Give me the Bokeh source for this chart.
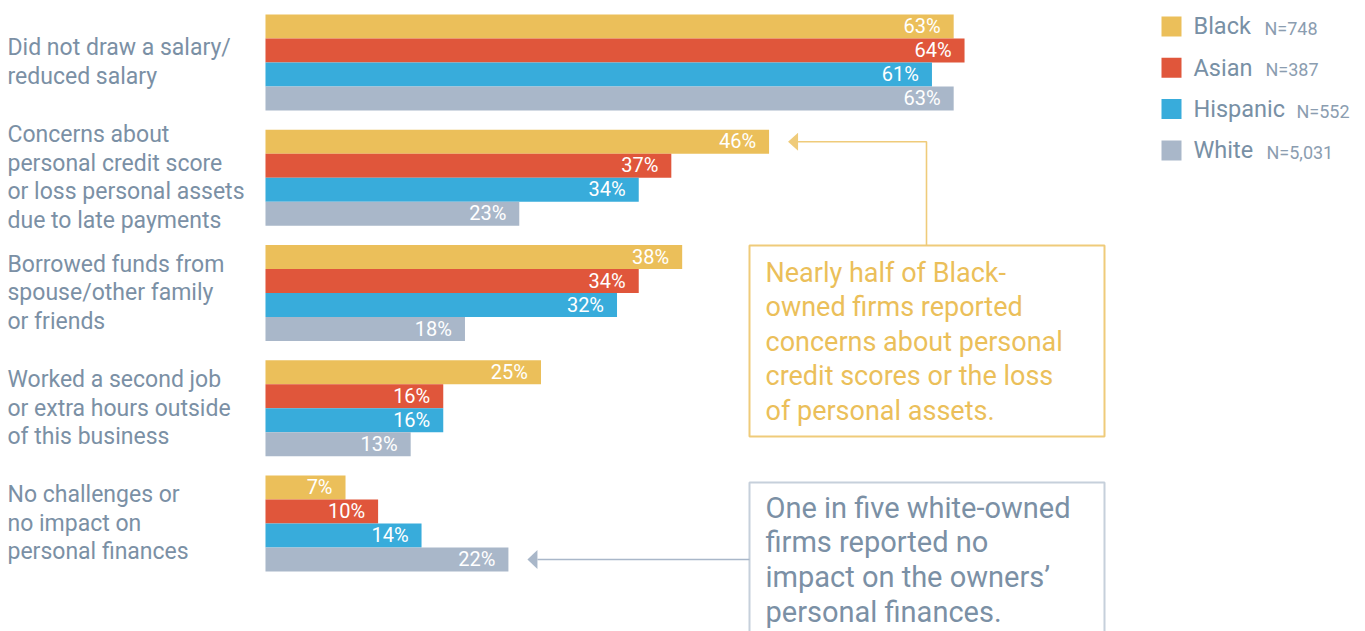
from bokeh.plotting import figure
from bokeh.models import ColumnDataSource, Range1d
from bokeh.core.properties import value
from bokeh.embed import file_html
from bokeh.resources import INLINE

# ---------------- data ----------------
CATEGORIES = [
    "Did not draw a salary/\nreduced salary",
    "Concerns about\npersonal credit score\nor loss personal assets\ndue to late payments",
    "Borrowed funds from\nspouse/other family\nor friends",
    "Worked a second job\nor extra hours outside\nof this business",
    "No challenges or\nno impact on\npersonal finances",
]
SERIES = ["Black", "Asian", "Hispanic", "White"]
SERIES_N = ["N=748", "N=387", "N=552", "N=5,031"]
BLACK = [63, 46, 38, 25, 7]
ASIAN = [64, 37, 34, 16, 10]
HISPANIC = [61, 34, 32, 16, 14]
WHITE = [63, 23, 18, 13, 22]
VALUES = [BLACK, ASIAN, HISPANIC, WHITE]
COLORS = ["#ebbf5a", "#e0563b", "#38acdb", "#a9b7c9"]

NOTE_BLACK = ["Nearly half of Black-", "owned firms reported", "concerns about personal",
              "credit scores or the loss", "of personal assets."]
NOTE_WHITE = ["One in five white-owned", "firms reported no", "impact on the owners\u2019",
              "personal finances."]

# ---------------- layout ----------------
W, H = 1365, 631
S = 10.86          # px per percent
X0 = 269           # px of value 0
ROW = 24.0         # px per bar row
Y0 = 14            # px of first bar top
GAP = 0.802        # gap between groups in rows
BASE = -0.37       # bar base (4px left of zero)

def px_x(px):
    return (px - X0) / S

def px_y(py):
    return (py - Y0) / ROW

def base_y(py, size):
    # alphabetic baseline at page px py, corrected for renderer offset
    return px_y(py - 0.37 * size)

FONT = value("Roboto")
LABEL_C = "#7b90a5"

p = figure(width=W, height=H, output_backend="svg", toolbar_location=None,
           x_axis_location=None, y_axis_location=None, min_border=0,
           x_range=Range1d(px_x(0), px_x(W)),
           y_range=Range1d(px_y(H), px_y(0)))
p.grid.visible = False
p.outline_line_color = None
p.background_fill_color = "white"
p.border_fill_color = "white"

# bars
ys, rights, cols, labs, lx, ly = [], [], [], [], [], []
for i in range(len(CATEGORIES)):
    for j in range(len(SERIES)):
        yc = i * (4 + GAP) + j + 0.5
        v = VALUES[j][i]
        ys.append(yc); rights.append(v); cols.append(COLORS[j])
        labs.append(f"{v}%"); lx.append(v - 13 / S)
        ly.append(yc + (7.1 - 0.37 * 20) / ROW)
src = ColumnDataSource(dict(y=ys, right=rights, color=cols, lab=labs, lx=lx, ly=ly))
p.hbar(y="y", left=BASE, right="right", height=1.0, fill_color="color", line_color=None, source=src)
p.text(x="lx", y="ly", text="lab", source=src, text_color="white", text_font=FONT,
       text_font_size="20px", text_align="right", text_baseline="alphabetic")

# category labels
LH = 28.7 / ROW
cx, cy, ct = [], [], []
for i, cat in enumerate(CATEGORIES):
    lines = cat.split("\n")
    center = i * (4 + GAP) + 2.0
    n = len(lines)
    for k, line in enumerate(lines):
        cx.append(px_x(7))
        cy.append(center + (k - (n - 1) / 2) * LH + (8.3 - 0.37 * 23) / ROW)
        ct.append(line)
p.text(x=cx, y=cy, text=ct, text_color=LABEL_C, text_font=FONT, text_font_size="23px",
       text_align="left", text_baseline="alphabetic")

# legend
LEG_Y = [26 + 41.3 * j for j in range(4)]
N_X = [1264, 1265, 1296, 1266]
p.rect(x=[px_x(1171)] * 4, y=[px_y(v) for v in LEG_Y], width=20, height=20,
       width_units="screen", height_units="screen", fill_color=COLORS, line_color=None)
p.text(x=[px_x(1193)] * 4, y=[base_y(v + 8.3, 23) for v in LEG_Y], text=SERIES, text_color="#7890a5",
       text_font=FONT, text_font_size="23.5px", text_baseline="alphabetic")
p.text(x=[px_x(v) for v in N_X], y=[base_y(v + 8.8, 18) for v in LEG_Y], text=SERIES_N,
       text_color="#8b9db0", text_font=FONT, text_font_size="18px", text_baseline="alphabetic")

# annotation boxes
Y_C = "#efcb7a"; Y_T = "#ebbf5a"
G_C = "#c6d0db"; G_T = "#7b90a5"; G_A = "#a9b7c9"
p.quad(left=px_x(749), right=px_x(1104), top=px_y(245), bottom=px_y(436),
       fill_color=None, line_color=Y_C, line_width=2)
p.quad(left=px_x(749), right=px_x(1104), top=px_y(482), bottom=px_y(700),
       fill_color=None, line_color=G_C, line_width=2)
BLH = 34.6
p.text(x=[px_x(765)] * len(NOTE_BLACK), y=[base_y(282 + BLH * k, 27) for k in range(len(NOTE_BLACK))],
       text=NOTE_BLACK, text_color=Y_T, text_font=FONT, text_font_size="27px", text_baseline="alphabetic")
p.text(x=[px_x(765)] * len(NOTE_WHITE), y=[base_y(518 + BLH * k, 29) for k in range(len(NOTE_WHITE))],
       text=NOTE_WHITE, text_color=G_T, text_font=FONT, text_font_size="29px", text_baseline="alphabetic")

# connectors with arrow heads pointing at the highlighted bars
yb = 1 * (4 + GAP) + 0 + 0.5          # Black bar of group 2
tip_b = BLACK[1] + 19 / S
p.line(x=[px_x(926), px_x(926), tip_b + 10 / S], y=[px_y(245), yb, yb], line_color=Y_C, line_width=1.6)
p.patch(x=[tip_b, tip_b + 10 / S, tip_b + 10 / S], y=[yb, yb - 9 / ROW, yb + 9 / ROW],
        fill_color=Y_C, line_color=None)

yw = 4 * (4 + GAP) + 3 + 0.5          # White bar of group 5
tip_w = WHITE[4] + 19 / S
p.line(x=[px_x(749), tip_w + 10 / S], y=[yw, yw], line_color=G_A, line_width=1.6)
p.patch(x=[tip_w, tip_w + 10 / S, tip_w + 10 / S], y=[yw, yw - 9.5 / ROW, yw + 9.5 / ROW],
        fill_color=G_A, line_color=None)

open("out.html", "w").write(file_html(p, INLINE))
